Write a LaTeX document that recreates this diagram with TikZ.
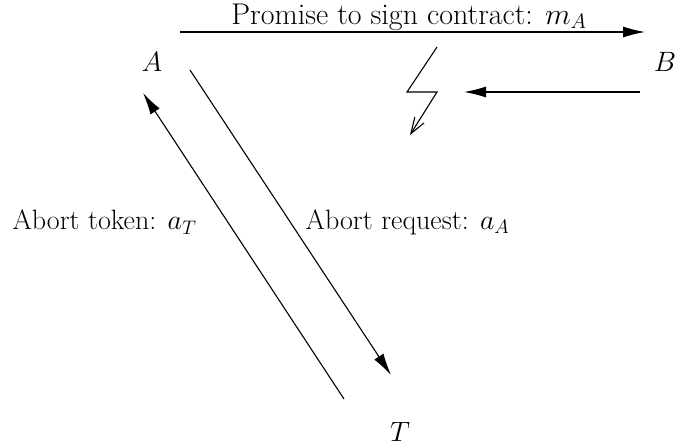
\RequirePackage{fix-cm}
\documentclass[tikz,border=0pt]{standalone}
\usetikzlibrary{arrows.meta}
\begin{document}
\begin{tikzpicture}[x=1pt,y=-1pt,
  every node/.style={font=\fontsize{28}{32}\selectfont, inner sep=0pt},
  msg/.style={line width=1.1pt, -{Latex[length=22pt,width=11pt]}},
  bolt/.style={line width=1.1pt, -{Straight Barb[length=16pt,width=11pt,line width=1.1pt]}, line join=miter}]
\useasboundingbox (0,0) rectangle (679,447);
\node (A) at (152,62) {$A$};
\node (B) at (665,62) {$B$};
\node (T) at (400,432) {$T$};
\coordinate (top1) at (180,32);
\coordinate (top2) at (645,32);
\coordinate (b1) at (640,92);
\coordinate (b2) at (464,92);
\coordinate (at1) at (190,70);
\coordinate (at2) at (391,375);
\coordinate (ta1) at (344,399);
\coordinate (ta2) at (143,93);
\coordinate (l1) at (437,47);
\coordinate (l2) at (407,92);
\coordinate (l3) at (437,92);
\coordinate (l4) at (410,135);
\draw[msg] (top1) -- (top2);
\node[font=\fontsize{30}{34}\selectfont] (pm) at (409,17) {Promise to sign contract: $m_A$};
\draw[msg] (b1) -- (b2);
\draw[msg] (at1) -- (at2);
\draw[msg] (ta1) -- (ta2);
\draw[bolt] (l1) -- (l2) -- (l3) -- (l4);
\node (tok) at (104.5,222) {Abort token: $a_T$};
\node (req) at (407.5,222) {Abort request: $a_A$};
\end{tikzpicture}
\end{document}
